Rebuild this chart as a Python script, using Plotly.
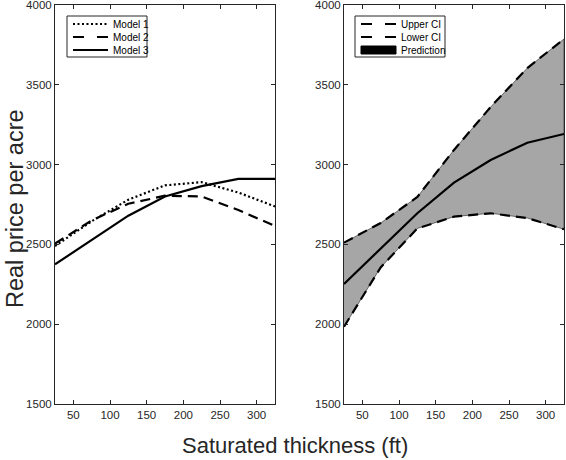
import plotly.graph_objects as go

# saturated thickness (ft)
thickness = [25, 75, 125, 175, 225, 275, 325]

# left panel - three models
model1 = [2490, 2645, 2780, 2870, 2890, 2825, 2738]
model2 = [2505, 2650, 2755, 2805, 2800, 2716, 2615]
model3 = [2375, 2525, 2680, 2800, 2865, 2910, 2910]

# right panel - prediction with confidence band
upper_ci = [2511, 2634, 2797, 3092, 3361, 3605, 3787]
prediction = [2252, 2475, 2695, 2887, 3029, 3137, 3192]
lower_ci = [1984, 2356, 2600, 2674, 2695, 2665, 2595]

left_names = ['Model 1', 'Model 2', 'Model 3']
right_names = ['Upper CI', 'Lower CI', 'Prediction']

x_ticks = [50, 100, 150, 200, 250, 300]
y_ticks = [1500, 2000, 2500, 3000, 3500, 4000]

W, H = 566, 460
TOP, BOT = 5, 404          # plot area in pixels
axcol = '#262626'
dash = '10px,6px'
dot = '2px,2.5px'


def px(x):
    return x / W


def py(y):
    return (BOT - y) / (BOT - TOP)


fig = go.Figure()

# left panel
fig.add_trace(go.Scatter(x=thickness, y=model1, mode='lines', name=left_names[0],
                         line=dict(color='black', width=2.2, dash=dot)))
fig.add_trace(go.Scatter(x=thickness, y=model2, mode='lines', name=left_names[1],
                         line=dict(color='black', width=2.2, dash=dash)))
fig.add_trace(go.Scatter(x=thickness, y=model3, mode='lines', name=left_names[2],
                         line=dict(color='black', width=2.2)))

# right panel: grey band between the CIs
fig.add_trace(go.Scatter(x=thickness + thickness[::-1], y=upper_ci + lower_ci[::-1],
                         mode='lines', fill='toself', fillcolor='#a6a6a6',
                         line=dict(color='black', width=0.5), hoverinfo='skip',
                         xaxis='x2', yaxis='y2'))
fig.add_trace(go.Scatter(x=thickness, y=upper_ci, mode='lines', name=right_names[0],
                         line=dict(color='black', width=2.2, dash=dash),
                         xaxis='x2', yaxis='y2'))
fig.add_trace(go.Scatter(x=thickness, y=lower_ci, mode='lines', name=right_names[1],
                         line=dict(color='black', width=2.2, dash=dash),
                         xaxis='x2', yaxis='y2'))
fig.add_trace(go.Scatter(x=thickness, y=prediction, mode='lines', name=right_names[2],
                         line=dict(color='black', width=2.2),
                         xaxis='x2', yaxis='y2'))

axis_common = dict(ticks='inside', ticklen=4, tickcolor=axcol, showline=True,
                   linecolor=axcol, linewidth=1, mirror='ticks', showgrid=False,
                   zeroline=False, ticklabeloverflow='allow',
                   tickfont=dict(size=11.5, color=axcol))
xaxis = dict(axis_common, range=[25, 325], tickvals=x_ticks)
yaxis = dict(axis_common, range=[1500, 4000], tickvals=y_ticks)

# hand-drawn legends (matlab style, compact rows)
shapes, annotations = [], []


def legend_box(x0, x1, labels, styles):
    shapes.append(dict(type='rect', xref='paper', yref='paper', x0=px(x0), x1=px(x1),
                       y0=py(57), y1=py(16), line=dict(color=axcol, width=1),
                       fillcolor='white', layer='above'))
    for i, (lab, sty) in enumerate(zip(labels, styles)):
        yy = 24 + 13 * i
        if sty == 'patch':
            shapes.append(dict(type='rect', xref='paper', yref='paper',
                               x0=px(x0 + 6), x1=px(x0 + 41), y0=py(yy + 4), y1=py(yy - 4),
                               line=dict(color='black', width=1), fillcolor='black',
                               layer='above'))
        else:
            shapes.append(dict(type='line', xref='paper', yref='paper',
                               x0=px(x0 + 6), x1=px(x0 + 41), y0=py(yy), y1=py(yy),
                               line=dict(color='black', width=2.2, dash=sty),
                               layer='above'))
        annotations.append(dict(text=lab, xref='paper', yref='paper', x=px(x0 + 44),
                                y=py(yy), xanchor='left', yanchor='middle',
                                showarrow=False, font=dict(size=10, color='black')))


legend_box(67, 147, left_names, ['2px,2.5px', '11px,13px', 'solid'])
legend_box(355, 445, right_names, ['11px,13px', '11px,13px', 'patch'])

annotations += [
    dict(text='Real price per acre', x=px(15), y=py(209), xref='paper', yref='paper',
         textangle=-90, showarrow=False, xanchor='center', yanchor='middle',
         font=dict(size=23.5, color=axcol)),
    dict(text='Saturated thickness (ft)', x=px(295), y=py(445), xref='paper',
         yref='paper', xanchor='center', yanchor='middle', showarrow=False,
         font=dict(size=22, color=axcol)),
]

fig.update_layout(
    width=W, height=H,
    margin=dict(l=0, r=0, t=TOP, b=H - BOT),
    paper_bgcolor='white', plot_bgcolor='white',
    font=dict(family='Liberation Sans, Arial, sans-serif', color=axcol),
    showlegend=False,
    xaxis=dict(xaxis, domain=[px(55), px(275)]),
    yaxis=dict(yaxis, anchor='x'),
    xaxis2=dict(xaxis, domain=[px(344), px(564)], anchor='y2'),
    yaxis2=dict(yaxis, anchor='x2'),
    shapes=shapes,
    annotations=annotations,
)

# page body has a default 8px margin; drop it so the figure sits at 0,0
fig.write_html("out.html", config={'displayModeBar': False},
               post_script="document.body.style.margin='0px';")
